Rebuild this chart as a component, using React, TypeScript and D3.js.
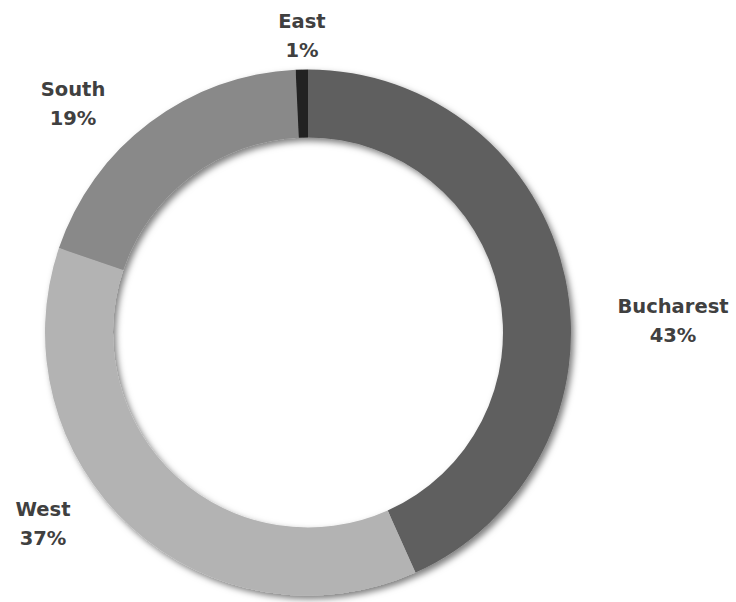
import React from "react";
import * as d3 from "d3";

const categories = ["Bucharest", "West", "South", "East"];
const shares = [43.3, 36.9, 19.05, 0.75];
const colors = ["#5f5f5f", "#b3b3b3", "#898989", "#222222"];

// label layout (centre x, first baseline y) in pixels
const labelLayout = [
  { x: 673, y: 313 },
  { x: 43, y: 516 },
  { x: 73, y: 96 },
  { x: 302, y: 28 },
];

const W = 736;
const H = 602;
const cx = 308;
const cy = 332.5;
const outerR = 263;
const innerR = 195;

export default function App() {
  const pie = d3
    .pie<number>()
    .value((d) => d)
    .sort(null)
    .startAngle(0)
    .endAngle(2 * Math.PI);
  const arcs = pie(shares);
  const arc = d3
    .arc<d3.PieArcDatum<number>>()
    .innerRadius(innerR)
    .outerRadius(outerR);
  const fmt = d3.format(".0%");
  const total = d3.sum(shares);

  return (
    <svg
      width={W}
      height={H}
      style={{ position: "absolute", left: 0, top: 0, background: "#fff" }}
    >
      <defs>
        <filter id="shadow" x="-10%" y="-10%" width="120%" height="120%">
          <feDropShadow dx="3" dy="3.5" stdDeviation="3.2" floodColor="#000" floodOpacity="0.5" />
        </filter>
      </defs>
      <g transform={`translate(${cx},${cy})`} filter="url(#shadow)">
        {arcs.map((a, i) => (
          <path key={categories[i]} d={arc(a) || ""} fill={colors[i]} />
        ))}
      </g>
      {categories.map((c, i) => (
        <text
          key={c}
          x={labelLayout[i].x}
          y={labelLayout[i].y}
          textAnchor="middle"
          fontFamily="'DejaVu Sans', sans-serif"
          fontWeight="bold"
          fontSize={19.5}
          fill="#404040"
        >
          <tspan x={labelLayout[i].x}>{c}</tspan>
          <tspan x={labelLayout[i].x} dy={29}>
            {fmt(shares[i] / total)}
          </tspan>
        </text>
      ))}
    </svg>
  );
}
